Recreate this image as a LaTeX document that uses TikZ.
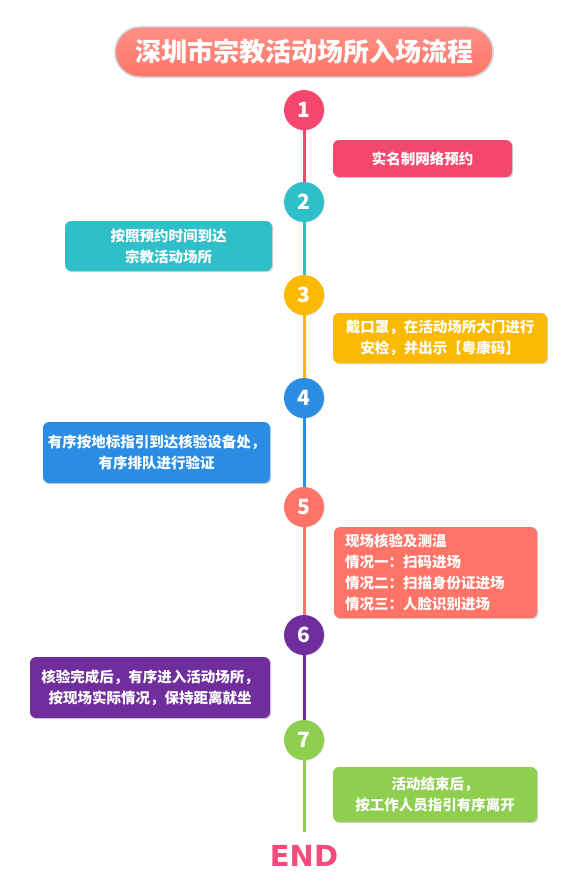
\documentclass[tikz,border=0pt]{standalone}
\usepackage{fontspec}
\setmainfont{Noto Sans CJK SC}
\newfontfamily\endfont{DejaVu Sans}
\usetikzlibrary{shadows}

% step colours
\definecolor{stepone}{HTML}{F4476E}
\definecolor{steptwo}{HTML}{2EBFC9}
\definecolor{stepthree}{HTML}{FBB901}
\definecolor{stepfour}{HTML}{2A8CE2}
\definecolor{stepfive}{HTML}{FF7467}
\definecolor{stepsix}{HTML}{6F2E9B}
\definecolor{stepseven}{HTML}{8FCF50}
\definecolor{endpink}{HTML}{F24C7C}

\tikzset{
  stepnum/.style={circle, fill=#1, minimum size=40pt, inner sep=0pt, text=white,
    font=\bfseries\fontsize{21}{21}\selectfont,
    drop shadow={opacity=0.25, shadow xshift=0.8pt, shadow yshift=-0.8pt}},
  stepbox/.style={rounded corners=6pt, fill=#1, text=white, inner sep=0pt, align=center,
    font=\bfseries\fontsize{14.5}{21}\selectfont,
    drop shadow={opacity=0.35, shadow xshift=1.2pt, shadow yshift=-1.2pt}},
  stepline/.style={line width=3pt, draw=#1}
}

\begin{document}
\begin{tikzpicture}[x=1pt, y=-1pt]
    \useasboundingbox (0,0) rectangle (585,883);

    % Title
    \node[rounded corners=25pt, top color=stepfive!80!white, bottom color=stepfive,
          draw=gray!35, line width=1.5pt, minimum width=378pt, minimum height=50pt,
          text=white, font=\bfseries\fontsize{26}{26}\selectfont,
          drop shadow={opacity=0.2, shadow xshift=1pt, shadow yshift=-1pt}]
        (title) at (304, 52) {深圳市宗教活动场所入场流程};

    % Step circles on the timeline
    \foreach \n/\y/\col in {1/110/stepone, 2/202/steptwo, 3/295/stepthree,
                            4/398/stepfour, 5/507/stepfive, 6/635/stepsix, 7/740/stepseven} {
        \node[stepnum=\col] (c\n) at (304, \y) {\n};
    }

    % Timeline segments
    \foreach \n/\m/\col in {1/2/stepone, 2/3/steptwo, 3/4/stepthree,
                            4/5/stepfour, 5/6/stepfive, 6/7/stepsix} {
        \draw[stepline=\col] (c\n.south) -- (c\m.north);
    }
    \coordinate (tail) at (304, 832);
    \draw[stepline=stepseven] (c7.south) -- (tail);

    % END mark
    \node[text=endpink, font=\endfont\bfseries\fontsize{29}{29}\selectfont, inner sep=0pt]
        (end) at (304, 856) {END};

    % Step boxes - right side
    \node[stepbox=stepone, minimum width=179pt, minimum height=37pt]
        (b1) at (422.5, 158.5) {实名制网络预约};
    \node[stepbox=stepthree, minimum width=214pt, minimum height=50pt]
        (b3) at (440, 338) {戴口罩，在活动场所大门进行\\安检，并出示【粤康码】};
    \node[stepbox=stepfive, minimum width=203pt, minimum height=91pt,
          text width=181pt, inner xsep=11pt, align=left]
        (b5) at (435.5, 572.5) {现场核验及测温\\情况一：扫码进场\\情况二：扫描身份证进场\\情况三：人脸识别进场};
    \node[stepbox=stepseven, minimum width=204pt, minimum height=55pt]
        (b7) at (435, 794.5) {活动结束后，\\按工作人员指引有序离开};

    % Step boxes - left side
    \node[stepbox=steptwo, minimum width=207pt, minimum height=50pt]
        (b2) at (168.5, 246) {按照预约时间到达\\宗教活动场所};
    \node[stepbox=stepfour, minimum width=227pt, minimum height=61pt]
        (b4) at (156.5, 452.5) {有序按地标指引到达核验设备处，\\有序排队进行验证};
    \node[stepbox=stepsix, minimum width=240pt, minimum height=61pt]
        (b6) at (150, 687.5) {核验完成后，有序进入活动场所，\\按现场实际情况，保持距离就坐};
\end{tikzpicture}
\end{document}
